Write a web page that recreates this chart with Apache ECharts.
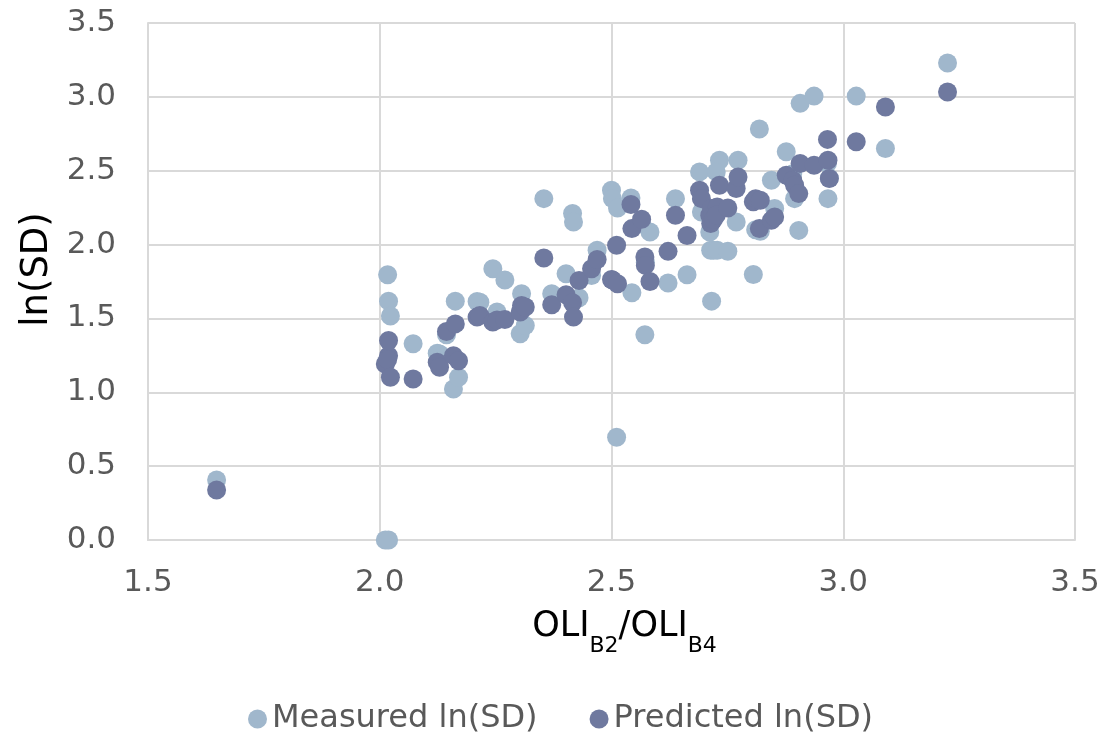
<!DOCTYPE html>
<html>
<head>
<meta charset="utf-8">
<script src="https://cdn.jsdelivr.net/npm/echarts@6/dist/echarts.min.js"></script>
<style>html,body{margin:0;padding:0;background:#fff}#c{width:1107px;height:734px}</style>
</head>
<body>
<div id="c"></div>
<script>
// x = OLI_B2/OLI_B4 ratio, shared by both series
var ratio = [
  1.648, 2.012, 2.019, 2.017, 2.019, 2.023, 2.072,
  2.124, 2.129, 2.144, 2.163, 2.159, 2.170,
  2.210, 2.216, 2.244, 2.253, 2.270,
  2.306, 2.303, 2.314, 2.354, 2.371,
  2.402, 2.416, 2.418, 2.430, 2.457, 2.469,
  2.500, 2.502, 2.513, 2.511, 2.542, 2.544, 2.565, 2.572, 2.573, 2.583,
  2.622, 2.638, 2.663,
  2.690, 2.694, 2.712, 2.716, 2.714, 2.720, 2.728, 2.733, 2.726, 2.751, 2.769, 2.773,
  2.806, 2.811, 2.819, 2.821, 2.845, 2.852, 2.877, 2.891, 2.895, 2.904, 2.907, 2.937,
  2.967, 2.970, 2.966, 3.028, 3.091, 3.225
];
var measured = [
  0.407, 0.000, 0.000, 1.796, 1.617, 1.516, 1.328,
  1.265, 1.260, 1.390, 1.617, 1.022, 1.102,
  1.615, 1.610, 1.836, 1.543, 1.760,
  1.667, 1.396, 1.452, 2.311, 1.667,
  1.803, 2.210, 2.153, 1.640, 1.791, 1.961,
  2.368, 2.311, 2.248, 0.695, 2.316, 1.674, 2.140, 1.389, 1.880, 2.085,
  1.740, 2.311, 1.796,
  2.492, 2.221, 2.085, 1.617, 1.961, 1.961, 1.961, 2.571, 2.492, 1.955, 2.153, 2.571,
  1.798, 2.100, 2.782, 2.090, 2.435, 2.244, 2.628, 2.480, 2.311, 2.096, 2.956, 3.005,
  2.311, 2.450, 2.550, 3.005, 2.651, 3.229
];
var predicted = [
  0.339, 1.192, 1.248, 1.220, 1.350, 1.102, 1.090,
  1.204, 1.170, 1.411, 1.463, 1.248, 1.214,
  1.509, 1.520, 1.475, 1.490, 1.492,
  1.588, 1.543, 1.577, 1.909, 1.592,
  1.660, 1.606, 1.509, 1.757, 1.836, 1.899,
  1.764, 1.760, 1.735, 1.995, 2.271, 2.108, 2.171, 1.916, 1.859, 1.750,
  1.954, 2.198, 2.062,
  2.368, 2.311, 2.198, 2.244, 2.142, 2.170, 2.255, 2.401, 2.200, 2.248, 2.379, 2.458,
  2.290, 2.311, 2.108, 2.300, 2.164, 2.187, 2.469, 2.435, 2.401, 2.345, 2.549, 2.537,
  2.571, 2.447, 2.712, 2.696, 2.931, 3.033
];
var xTicks = [1.5, 2.0, 2.5, 3.0, 3.5];
var yTicks = [0.0, 0.5, 1.0, 1.5, 2.0, 2.5, 3.0, 3.5];
var seriesNames = ['Measured ln(SD)', 'Predicted ln(SD)'];

function pairs(ys) { return ratio.map(function (x, i) { return [x, ys[i]]; }); }

var chart = echarts.init(document.getElementById('c'));
var tickFont = { color: '#595959', fontSize: 31, fontFamily: 'DejaVu Sans' };
chart.setOption({
  animation: false,
  grid: { left: 148, right: 32, top: 23, bottom: 194, containLabel: false },
  legend: {
    top: 698, left: 243,
    itemWidth: 19, itemHeight: 19, itemGap: 52,
    icon: 'circle',
    textStyle: { color: '#595959', fontSize: 32, fontFamily: 'DejaVu Sans' },
    data: seriesNames
  },
  xAxis: {
    type: 'value', min: xTicks[0], max: xTicks[xTicks.length - 1], interval: 0.5,
    axisLine: { show: true, lineStyle: { color: '#d9d9d9', width: 2 } },
    axisTick: { show: false },
    splitLine: { show: true, lineStyle: { color: '#d9d9d9', width: 2 } },
    axisLabel: Object.assign({ margin: 27, formatter: function (v) { return v.toFixed(1); } }, tickFont),
    name: '{a|OLI}{s|B2}{a|/OLI}{s|B4}',
    nameLocation: 'middle', nameGap: 57,
    nameTextStyle: {
      padding: [0, 0, 0, 26],
      rich: {
        a: { fontSize: 35, color: '#000', fontFamily: 'DejaVu Sans', lineHeight: 60 },
        s: { fontSize: 22, color: '#000', fontFamily: 'DejaVu Sans', lineHeight: 22, verticalAlign: 'bottom' }
      }
    }
  },
  yAxis: {
    type: 'value', min: yTicks[0], max: yTicks[yTicks.length - 1], interval: 0.5,
    axisLine: { show: true, lineStyle: { color: '#d9d9d9', width: 2 } },
    axisTick: { show: false },
    splitLine: { show: true, lineStyle: { color: '#d9d9d9', width: 2 } },
    axisLabel: Object.assign({ margin: 32, formatter: function (v) { return v.toFixed(1); } }, tickFont),
    name: 'ln(SD)', nameLocation: 'middle', nameGap: 92, nameRotate: 90,
    nameTextStyle: { fontSize: 37, color: '#000', fontFamily: 'DejaVu Sans', padding: [0, 0, 0, 24] }
  },
  series: [
    { name: seriesNames[0], type: 'scatter', symbolSize: 19, data: pairs(measured),
      itemStyle: { color: '#a0b7cc', opacity: 1 } },
    { name: seriesNames[1], type: 'scatter', symbolSize: 19, data: pairs(predicted),
      itemStyle: { color: '#6f799f', opacity: 1 } }
  ]
});
</script>
</body>
</html>
